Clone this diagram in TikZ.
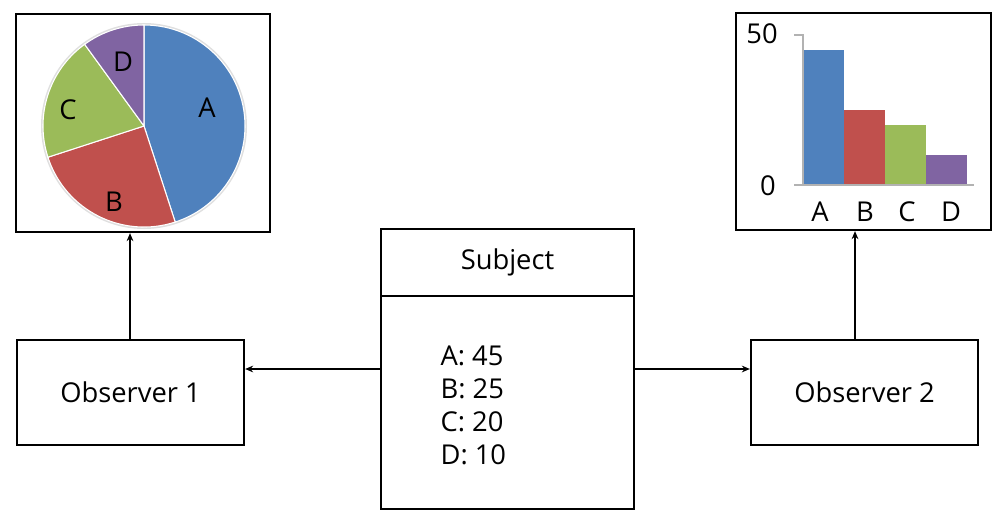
\documentclass[tikz,border=0pt]{standalone}
\usepackage{fontspec}
\setmainfont{Open Sans}
\usepackage{tikz}
\usetikzlibrary{arrows.meta}

\definecolor{partA}{HTML}{4F81BD}
\definecolor{partB}{HTML}{C0504D}
\definecolor{partC}{HTML}{9BBB59}
\definecolor{partD}{HTML}{8064A2}
\newcommand{\pxu}{0.75pt}

\begin{document}
\begin{tikzpicture}[x=0.75pt, y=-0.75pt, line width=1.7pt,
    box/.style={draw=black, rectangle, inner sep=0pt},
    arr/.style={line width=1.5pt, -{Stealth[length=6pt, width=5pt]}},
    lbl/.style={font=\fontsize{20.5}{24.75}\selectfont}]
    \useasboundingbox (0,0) rectangle (1002,524);

    % draw pie chart box
    \node[box, minimum width=254*\pxu, minimum height=218*\pxu] (piebox) at (143,123) {};
    \coordinate (pc) at (144,126);

    % draw pie slices
    \draw[gray!25, line width=1.5pt] (pc) circle (102);
    \filldraw[fill=partA, draw=white, line width=0.8pt]
      (pc) -- ++(-90 : 101) arc [radius = 101, start angle = -90, end angle = 72] -- cycle;
    \filldraw[fill=partB, draw=white, line width=0.8pt]
      (pc) -- ++(72 : 101) arc [radius = 101, start angle = 72, end angle = 162] -- cycle;
    \filldraw[fill=partC, draw=white, line width=0.8pt]
      (pc) -- ++(162 : 101) arc [radius = 101, start angle = 162, end angle = 234] -- cycle;
    \filldraw[fill=partD, draw=white, line width=0.8pt]
      (pc) -- ++(234 : 101) arc [radius = 101, start angle = 234, end angle = 270] -- cycle;

    % pie labels
    \node[lbl] (pieA) at (207,108) {A};
    \node[lbl] (pieB) at (114,202) {B};
    \node[lbl] (pieC) at (68,110) {C};
    \node[lbl] (pieD) at (123,62) {D};

    % draw bar chart box
    \node[box, minimum width=255*\pxu, minimum height=217*\pxu] (barbox) at (863.5,121.5) {};

    % draw bars
    \fill[partA] (803,185) rectangle (844,50);
    \fill[partB] (844,185) rectangle (885,110);
    \fill[partC] (885,185) rectangle (926,125);
    \fill[partD] (926,185) rectangle (967,155);

    % draw axes
    \draw[gray!60, line width=1pt] (794,35) -- (803,35) -- (803,185);
    \draw[gray!60, line width=1pt] (794,185) -- (974,185);

    % bar labels
    \node[lbl] (ytop) at (762,34) {50};
    \node[lbl] (ybot) at (768,186) {0};
    \node[lbl] (barA) at (820,212) {A};
    \node[lbl] (barB) at (865,212) {B};
    \node[lbl] (barC) at (907,212) {C};
    \node[lbl] (barD) at (951,212) {D};

    % draw subject box
    \node[box, lbl, minimum width=253*\pxu, minimum height=67*\pxu] (subject) at (507.5,262.5) {Subject};
    \node[box, minimum width=253*\pxu, minimum height=213*\pxu] (data) at (507.5,402.5) {};
    \node[lbl, align=left, anchor=west] (values) at (435,405) {A: 45\\B: 25\\C: 20\\D: 10};

    % draw observer boxes
    \node[box, lbl, minimum width=227*\pxu, minimum height=105*\pxu] (obs1) at (130.5,392.5) {Observer 1};
    \node[box, lbl, minimum width=227*\pxu, minimum height=105*\pxu] (obs2) at (864.5,392.5) {Observer 2};

    % draw arrows
    \coordinate (left1) at (381,369);
    \coordinate (right1) at (634,369);
    \coordinate (up1) at (130,340);
    \coordinate (up2) at (855,340);
    \draw[arr] (left1) -- (left1 -| obs1.east);
    \draw[arr] (right1) -- (right1 -| obs2.west);
    \draw[arr] (up1) -- (up1 |- piebox.south);
    \draw[arr] (up2) -- (up2 |- barbox.south);

\end{tikzpicture}
\end{document}
